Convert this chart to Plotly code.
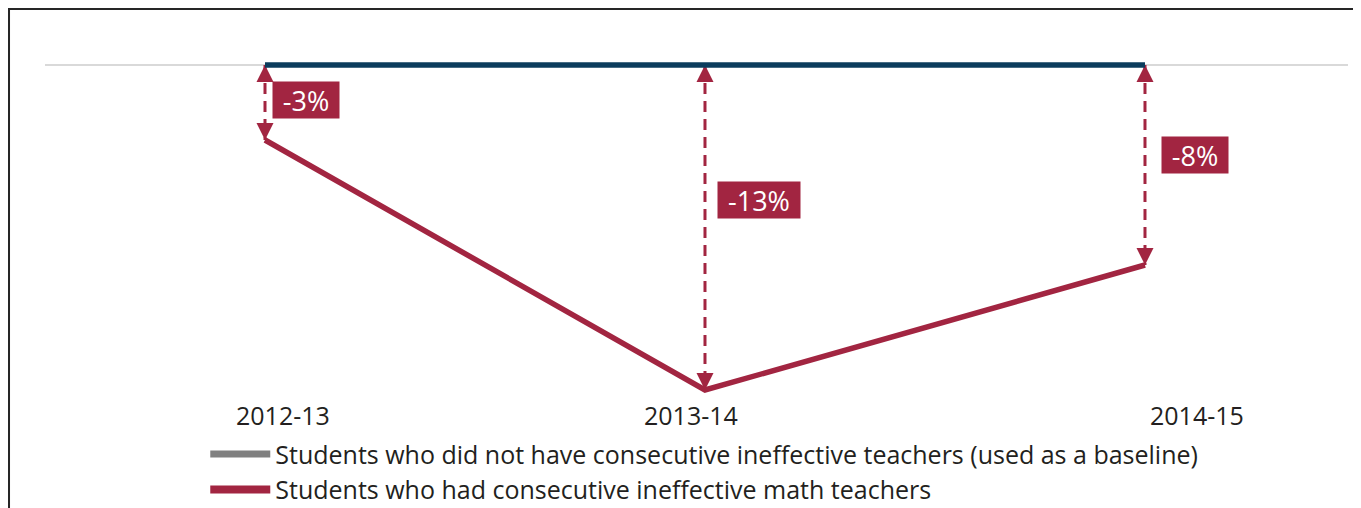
import plotly.graph_objects as go

years = ["2012-13", "2013-14", "2014-15"]
baseline = [0, 0, 0]
consecutive = [-3, -13, -8]
gap_labels = ["-3%", "-13%", "-8%"]
legend_names = [
    "Students who did not have consecutive ineffective teachers (used as a baseline)",
    "Students who had consecutive ineffective math teachers",
]

RED = "#A22541"
BLUE = "#0B3C5D"
GRAY = "#808080"
FONT = "Open Sans"

xs = list(range(len(years)))
fig = go.Figure()

# gap arrows (dashed, arrowheads at both ends)
for i, v in enumerate(consecutive):
    fig.add_trace(go.Scatter(
        x=[xs[i], xs[i]], y=[baseline[i], v], mode="lines+markers",
        line=dict(color=RED, width=3, dash="11px,7px"),
        marker=dict(symbol=["arrow-up", "arrow-down"], size=17, color=RED,
                    line=dict(width=0)),
        showlegend=False, hoverinfo="skip"))

fig.add_trace(go.Scatter(x=xs, y=baseline, mode="lines",
                         line=dict(color=BLUE, width=5.5), showlegend=False))
fig.add_trace(go.Scatter(x=xs, y=consecutive, mode="lines",
                         line=dict(color=RED, width=5.5), showlegend=False))

# legend entries
fig.add_trace(go.Scatter(x=[None], y=[None], mode="lines", name=legend_names[0],
                         line=dict(color=GRAY, width=7)))
fig.add_trace(go.Scatter(x=[None], y=[None], mode="lines", name=legend_names[1],
                         line=dict(color=RED, width=8)))

label_y = [-1.4, -5.38, -3.58]
label_shift = [41, 54, 50]
label_w = [66, 82, 66]
for i, t in enumerate(gap_labels):
    fig.add_annotation(x=xs[i], y=label_y[i], text=t, showarrow=False,
                       xshift=label_shift[i], bgcolor=RED,
                       width=label_w[i], height=36, borderpad=0,
                       font=dict(family=FONT, size=27, color="white"))

tick_shift = [18, -14, 52]
for i, t in enumerate(years):
    fig.add_annotation(x=xs[i], y=0, yref="paper", text=t, showarrow=False,
                       xshift=tick_shift[i], yanchor="top", yshift=-1,
                       font=dict(family=FONT, size=25, color="#231F20"))

# frame
fig.add_shape(type="rect", xref="paper", yref="paper",
              x0=-0.0280, x1=1.2, y0=-0.6, y1=1.0589,
              line=dict(color="#262626", width=3), layer="above")

fig.update_layout(
    width=1353, height=500,
    margin=dict(l=37, r=13, t=22, b=113, autoexpand=False),
    paper_bgcolor="white", plot_bgcolor="white",
    xaxis=dict(range=[-0.5, 2.4614], showgrid=False, zeroline=False,
               showticklabels=False, showline=False),
    yaxis=dict(range=[-13.2, 1.4], showgrid=False, zeroline=True,
               zerolinecolor="#D9D9D9", zerolinewidth=2,
               showticklabels=False, showline=False),
    legend=dict(x=0.123, xanchor="left", y=-0.099, yanchor="top",
                bgcolor="rgba(0,0,0,0)", itemwidth=60,
                font=dict(family=FONT, size=25, color="#231F20")),
    showlegend=True,
)

fig.write_html("out.html")
